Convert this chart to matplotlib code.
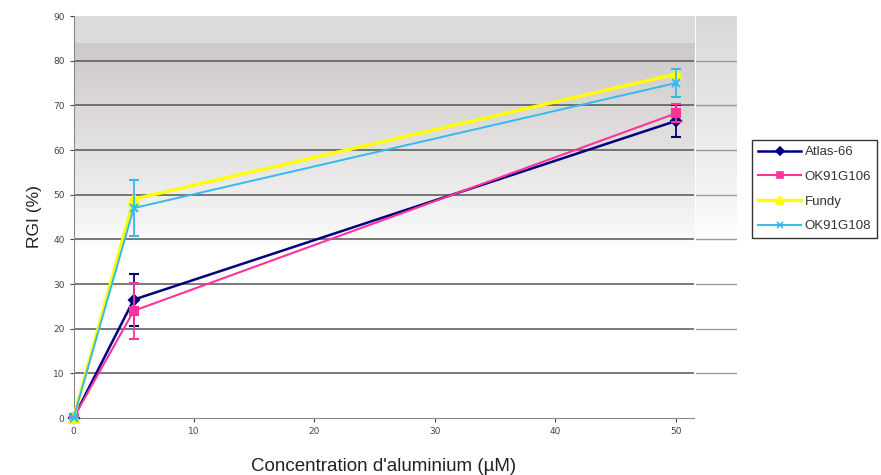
import numpy as np
import matplotlib
matplotlib.use("Agg")
import matplotlib.pyplot as plt
from matplotlib.lines import Line2D

conc = [0, 5, 50]
series_names = ["Atlas-66", "OK91G106", "Fundy", "OK91G108"]
atlas = [0, 26.5, 66.5]
atlas_err = [0, 5.8, 3.5]
ok106 = [0, 24.0, 68.2]
ok106_err = [0, 6.3, 2.0]
fundy = [0, 49.0, 77.0]
fundy_err = [0, 0, 0]
ok108 = [0, 47.0, 75.0]
ok108_err = [0, 6.3, 3.2]

colors = ["#000080", "#ff3399", "#ffff00", "#33bbee"]
markers = ["D", "s", "^", "x"]
msizes = [5, 6, 7, 6]
lws = [1.8, 1.5, 2.4, 1.4]

W, H = 881, 475
fig = plt.figure(figsize=(W / 100, H / 100), dpi=100)
fig.patch.set_facecolor("white")

L, R, T, B = 73.5, 694, 16, 418
ax = fig.add_axes([L / W, 1 - B / H, (R - L) / W, (B - T) / H])

ys = np.linspace(0, 90, 400)

# outer gray strip to the right of plot area
strip = np.ones((400, 1, 3))
for i, yv in enumerate(ys):
    if yv >= 40:
        t = ((yv - 40) / 50) ** 0.8
        v = 1 - (1 - 0.85) * t
    else:
        v = 1.0
    strip[i, 0] = [v, v, v]
axs = fig.add_axes([696 / W, 1 - B / H, (737 - 696) / W, (B - T) / H], zorder=-1)
axs.imshow(strip, aspect="auto", extent=[0, 1, 0, 90], origin="lower")
axs.set_xlim(0, 1); axs.set_ylim(0, 90)
for yv in range(10, 90, 10):
    axs.axhline(yv, color="#9a9a9a", lw=1.0)
axs.axis("off")

# plot area gradient background
img = np.ones((400, 1, 3))
for i, yv in enumerate(ys):
    if yv >= 84:
        c = np.array([0.86, 0.86, 0.86])
    elif yv >= 38:
        t = ((yv - 38) / (84 - 38)) ** 0.8
        top = np.array([0.81, 0.79, 0.79])
        c = 1 - (1 - top) * t
    else:
        c = np.array([1.0, 1.0, 1.0])
    img[i, 0] = c
ax.imshow(img, aspect="auto", extent=[0, 51.5, 0, 90], origin="lower", zorder=0)

ax.set_xlim(0, 51.5)
ax.set_ylim(0, 90)
ax.set_yticks(range(0, 91, 10))
ax.set_xticks(range(0, 51, 10))
for yv in range(10, 90, 10):
    ax.axhline(yv, color="#555555", lw=1.1, zorder=1)

for s in ["top", "right"]:
    ax.spines[s].set_visible(False)
ax.spines["left"].set_color("#888888")
ax.spines["bottom"].set_color("#888888")
ax.tick_params(axis="both", labelsize=6.5, colors="#444444", length=3, width=0.8)

data = [atlas, ok106, fundy, ok108]
errs = [atlas_err, ok106_err, fundy_err, ok108_err]
for k in range(4):
    ax.errorbar(conc, data[k], yerr=errs[k], color=colors[k], lw=lws[k],
                marker=markers[k], ms=msizes[k], mew=1.5, capsize=3.5,
                elinewidth=1.3, capthick=1.3, zorder=3 + k, clip_on=False)

ax.set_xlabel("Concentration d'aluminium (µM)", fontsize=13.5, color="#222222",
              family="Liberation Sans", labelpad=16)
ax.set_ylabel("RGI (%)", fontsize=12.5, color="#222222", family="Liberation Sans",
              labelpad=8)

handles = [Line2D([0], [0], color=colors[k], lw=lws[k], marker=markers[k],
                  ms=msizes[k] - 1, mew=1.2) for k in range(4)]
leg = fig.legend(handles, series_names, loc="upper left",
                 bbox_to_anchor=(752 / W, 1 - 140 / H), frameon=True,
                 fancybox=False, edgecolor="black",
                 handlelength=3.3, handletextpad=0.25, borderpad=0.45,
                 borderaxespad=0, labelspacing=0.95,
                 prop={"family": "Liberation Sans", "size": 9.5})
leg.get_frame().set_linewidth(1.0)
for t in leg.get_texts():
    t.set_color("#333333")

fig.savefig("out.png", dpi=100)
